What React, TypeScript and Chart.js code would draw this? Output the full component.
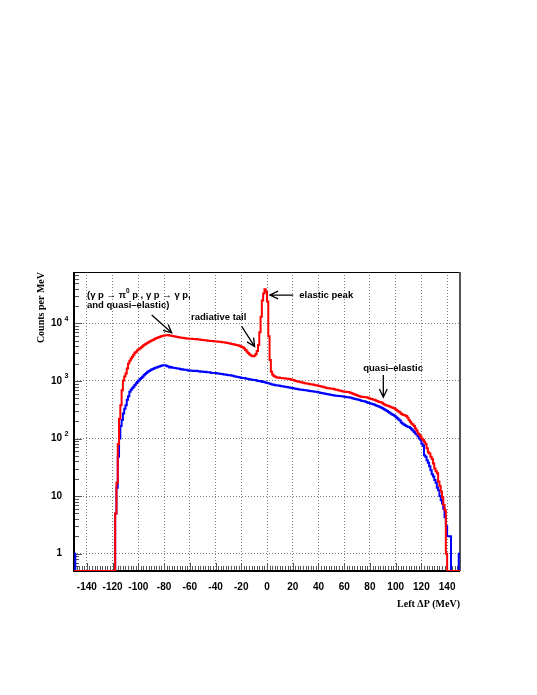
import { useEffect, useRef } from 'react';
import { Chart, registerables } from 'chart.js';

Chart.register(...registerables);

// ---- axis ranges and ticks ----
const X_MIN = -150;
const X_MAX = 150;
const BIN_WIDTH = 1;
const Y_MIN = 0.5;
const Y_MAX = 78000;

const xTickValues = [-140, -120, -100, -80, -60, -40, -20, 0, 20, 40, 60, 80, 100, 120, 140];
const yTickValues = [1, 10, 100, 1000, 10000];
const yTickBase = ['1', '10', '10', '10', '10'];
const yTickExponent = ['', '', '2', '3', '4'];

// ---- histogram contents (counts per 1 MeV bin, bins given by their lower edge) ----
const redFirstBin = -118;
const redCounts = [
  5, 17, 80, 220, 380, 690, 1020, 1200, 1350, 1650,
  2010, 2250, 2450, 2630, 2850, 3100, 3210, 3400, 3550, 3680,
  3850, 4000, 4200, 4330, 4450, 4600, 4790, 4900, 5030, 5150,
  5280, 5480, 5580, 5700, 5820, 5900, 6010, 6080, 6150, 6200,
  6220, 6260, 6180, 6100, 6050, 5980, 5900, 5850, 5780, 5720,
  5680, 5620, 5600, 5560, 5520, 5480, 5450, 5420, 5400, 5380,
  5350, 5360, 5310, 5330, 5260, 5220, 5200, 5160, 5130, 5100,
  5080, 5050, 5000, 5010, 4950, 4930, 4900, 4870, 4850, 4820,
  4800, 4780, 4760, 4700, 4690, 4650, 4600, 4560, 4520, 4450,
  4400, 4370, 4300, 4250, 4200, 4150, 4080, 4000, 3900, 3800,
  3650, 3450, 3250, 3050, 2900, 2800, 2700, 2680, 2750, 2950,
  3300, 4200, 7000, 13000, 25000, 33000, 39000, 35000, 24000, 6000,
  2300, 1450, 1300, 1220, 1180, 1160, 1140, 1150, 1130, 1120,
  1110, 1110, 1100, 1090, 1090, 1080, 1070, 1050, 1040, 1020,
  1000, 990, 970, 965, 950, 935, 930, 915, 905, 900,
  890, 880, 880, 870, 860, 845, 840, 830, 815, 805,
  800, 790, 775, 770, 755, 745, 745, 740, 735, 730,
  720, 705, 700, 690, 680, 675, 665, 655, 650, 648,
  645, 640, 632, 620, 605, 595, 580, 570, 560, 545,
  535, 530, 528, 525, 522, 520, 510, 500, 490, 485,
  478, 470, 462, 450, 440, 432, 425, 418, 400, 390,
  380, 375, 368, 360, 350, 345, 338, 330, 315, 305,
  295, 282, 270, 262, 255, 252, 245, 230, 210, 195,
  182, 175, 165, 150, 138, 122, 118, 110, 100, 94,
  88, 80, 68, 58, 55, 48, 44, 37, 30, 27,
  25, 18, 15, 12, 9.5, 7, 5.7, 1,
];

const blueFirstBin = -118;
const blueCounts = [
  5, 14, 48, 100, 165, 210, 272, 330, 380, 470,
  540, 648, 700, 750, 790, 850, 910, 964, 1020, 1080,
  1130, 1180, 1250, 1320, 1380, 1440, 1490, 1530, 1585, 1620,
  1660, 1690, 1720, 1760, 1790, 1820, 1850, 1880, 1870, 1850,
  1800, 1780, 1720, 1740, 1700, 1690, 1680, 1660, 1650, 1640,
  1620, 1580, 1600, 1570, 1560, 1560, 1540, 1510, 1520, 1500,
  1510, 1490, 1500, 1500, 1470, 1480, 1450, 1460, 1440, 1430,
  1440, 1420, 1410, 1420, 1390, 1380, 1380, 1370, 1370, 1350,
  1340, 1330, 1320, 1320, 1300, 1290, 1280, 1270, 1260, 1250,
  1240, 1230, 1210, 1200, 1180, 1170, 1160, 1150, 1130, 1120,
  1120, 1100, 1090, 1080, 1070, 1060, 1050, 1040, 1040, 1030,
  1010, 1000, 990, 1000, 960, 970, 950, 930, 920, 910,
  890, 880, 870, 860, 845, 840, 835, 830, 820, 810,
  805, 795, 790, 785, 775, 770, 765, 755, 750, 740,
  730, 725, 715, 710, 705, 700, 695, 690, 690, 680,
  675, 670, 665, 660, 655, 650, 648, 640, 630, 625,
  615, 610, 605, 600, 592, 585, 580, 575, 570, 566,
  560, 555, 552, 548, 545, 542, 540, 535, 530, 525,
  522, 520, 516, 510, 500, 495, 488, 482, 478, 470,
  462, 455, 448, 442, 438, 432, 420, 412, 405, 400,
  395, 390, 380, 372, 365, 355, 348, 340, 330, 318,
  310, 300, 290, 280, 270, 262, 255, 245, 235, 225,
  215, 205, 190, 182, 175, 170, 165, 160, 158, 152,
  145, 138, 130, 122, 118, 110, 100, 95, 81, 75,
  51, 48, 42, 38, 33, 28, 24, 22, 19, 17,
  14, 12.6, 10, 8.5, 7.4, 6, 4.3, 3, 2, 2,
  2,
];
const blueEdgeBins = [-150, 149];
const blueEdgeCounts = [1, 1];

// ---- annotations (data coordinates) ----
const annotationTexts = [
  '(γ p → π^{0} p , γ p → γ p,',
  'and quasi–elastic)',
  'radiative tail',
  'elastic peak',
  'quasi–elastic',
];
const annotationX = [-139.9, -139.9, -59.1, 25.1, 74.8];
const annotationY = [30400, 20400, 12900, 31000, 1670];

const arrowFromX = [-89.6, -19.8, 20.4, 90.4];
const arrowFromY = [13930, 8980, 31050, 1262];
const arrowToX = [-74.1, -9.6, 2.3, 90.4];
const arrowToY = [6865, 3950, 31050, 522];

const SANS = '"Liberation Sans", Arial, Helvetica, sans-serif';
const SERIF = '"Liberation Serif", "Times New Roman", serif';

function histogramPoints(firstBin: number, counts: number[], extraBins: number[] = [], extraCounts: number[] = []) {
  const pts: { x: number; y: number }[] = [];
  const nBins = Math.round((X_MAX - X_MIN) / BIN_WIDTH);
  for (let i = 0; i < nBins; i++) {
    const lo = X_MIN + i * BIN_WIDTH;
    let c = 0;
    const k = Math.round((lo - firstBin) / BIN_WIDTH);
    if (k >= 0 && k < counts.length) c = counts[k];
    const e = extraBins.indexOf(lo);
    if (e >= 0) c = extraCounts[e];
    // empty bins are drawn on the bottom of the log axis (as ROOT does)
    pts.push({ x: lo, y: Math.max(c, Y_MIN) });
  }
  pts.push({ x: X_MAX, y: pts[pts.length - 1].y });
  return pts;
}

function drawRich(ctx: CanvasRenderingContext2D, text: string, x: number, y: number, size: number) {
  const parts = text.split(/\^\{([^}]*)\}/);
  let cx = x;
  parts.forEach((p, i) => {
    if (!p) return;
    const sup = i % 2 === 1;
    ctx.font = `bold ${sup ? size * 0.68 : size}px ${SANS}`;
    ctx.fillText(p, cx, sup ? y - size * 0.42 : y);
    cx += ctx.measureText(p).width;
  });
}

const decorPlugin = {
  id: 'rootDecor',
  beforeDatasetsDraw(chart: any) {
    const { ctx, chartArea: a, scales } = chart;
    const xs = scales.x;
    const ys = scales.y;
    ctx.save();
    // tick marks pointing into the frame
    ctx.strokeStyle = '#555';
    ctx.lineWidth = 1;
    ctx.beginPath();
    for (let v = X_MIN; v <= X_MAX; v += 2) {
      const px = Math.round(xs.getPixelForValue(v)) + 0.5;
      const len = Math.abs(v % 20) === 0 ? 8 : 5;
      ctx.moveTo(px, a.bottom);
      ctx.lineTo(px, a.bottom - len);
    }
    for (let d = -1; d <= 4; d++) {
      for (let m = 1; m <= 9; m++) {
        const v = m * Math.pow(10, d);
        if (v < Y_MIN || v > Y_MAX) continue;
        const py = Math.round(ys.getPixelForValue(v)) + 0.5;
        const len = m === 1 ? 8 : 5;
        ctx.moveTo(a.left, py);
        ctx.lineTo(a.left + len, py);
      }
    }
    ctx.stroke();
    // frame
    ctx.strokeStyle = '#000';
    ctx.lineWidth = 1;
    ctx.beginPath();
    ctx.moveTo(a.left, a.top + 0.5);
    ctx.lineTo(a.right, a.top + 0.5);
    ctx.stroke();
    ctx.lineWidth = 2;
    ctx.beginPath();
    ctx.moveTo(a.left, a.top);
    ctx.lineTo(a.left, a.bottom);
    ctx.lineTo(a.right, a.bottom);
    ctx.stroke();
    ctx.strokeStyle = '#555';
    ctx.beginPath();
    ctx.moveTo(a.right, a.top);
    ctx.lineTo(a.right, a.bottom);
    ctx.stroke();
    ctx.restore();
  },
  afterDatasetsDraw(chart: any) {
    const { ctx, chartArea: a, scales } = chart;
    const xs = scales.x;
    const ys = scales.y;
    ctx.save();
    ctx.fillStyle = '#000';
    ctx.textBaseline = 'middle';
    // y tick labels (10 with superscript exponent)
    yTickValues.forEach((v, i) => {
      const py = ys.getPixelForValue(v);
      ctx.font = `bold 10px ${SANS}`;
      ctx.textAlign = 'right';
      ctx.fillText(yTickBase[i], a.left - 12, py);
      if (yTickExponent[i]) {
        ctx.font = `bold 7px ${SANS}`;
        ctx.textAlign = 'left';
        ctx.fillText(yTickExponent[i], a.left - 9.5, py - 4.5);
      }
    });
    // annotation texts
    ctx.textAlign = 'left';
    annotationTexts.forEach((t, i) => {
      drawRich(ctx, t, xs.getPixelForValue(annotationX[i]), ys.getPixelForValue(annotationY[i]), 9.5);
    });
    // arrows
    ctx.strokeStyle = '#000';
    ctx.lineWidth = 1.3;
    arrowFromX.forEach((_, i) => {
      const x1 = xs.getPixelForValue(arrowFromX[i]);
      const y1 = ys.getPixelForValue(arrowFromY[i]);
      const x2 = xs.getPixelForValue(arrowToX[i]);
      const y2 = ys.getPixelForValue(arrowToY[i]);
      const ang = Math.atan2(y2 - y1, x2 - x1);
      const hl = 9;
      const ha = 0.45;
      ctx.beginPath();
      ctx.moveTo(x1, y1);
      ctx.lineTo(x2, y2);
      ctx.moveTo(x2 - hl * Math.cos(ang - ha), y2 - hl * Math.sin(ang - ha));
      ctx.lineTo(x2, y2);
      ctx.lineTo(x2 - hl * Math.cos(ang + ha), y2 - hl * Math.sin(ang + ha));
      ctx.stroke();
    });
    ctx.restore();
  },
};

export default function App() {
  const ref = useRef<HTMLCanvasElement | null>(null);
  useEffect(() => {
    if (!ref.current) return;
    const gridOpts = { display: true, drawOnChartArea: true, drawTicks: false, color: 'rgba(0,0,0,0.5)', lineWidth: 1 };
    const chart = new Chart(ref.current, {
      type: 'line',
      data: {
        datasets: [
          {
            label: 'red',
            data: histogramPoints(redFirstBin, redCounts),
            borderColor: '#ff0000',
            borderWidth: 2,
            stepped: 'before',
            pointRadius: 0,
            fill: false,
          },
          {
            label: 'blue',
            data: histogramPoints(blueFirstBin, blueCounts, blueEdgeBins, blueEdgeCounts),
            borderColor: '#0000ff',
            borderWidth: 2,
            stepped: 'before',
            pointRadius: 0,
            fill: false,
          },
        ],
      },
      options: {
        animation: false,
        responsive: false,
        devicePixelRatio: 1,
        parsing: false,
        normalized: true,
        layout: { padding: { left: 0, top: 272, right: 77, bottom: 0 } },
        plugins: { legend: { display: false }, tooltip: { enabled: false }, title: { display: false } },
        scales: {
          x: {
            type: 'linear',
            position: 'bottom',
            min: X_MIN,
            max: X_MAX,
            afterBuildTicks: (s: any) => {
              s.ticks = xTickValues.map((v) => ({ value: v }));
            },
            afterFit: (s: any) => {
              s.height = 124;
            },
            grid: gridOpts,
            border: { display: false, dash: [1, 2] },
            ticks: {
              display: true,
              padding: 10,
              color: '#000',
              autoSkip: false,
              maxRotation: 0,
              font: { family: SANS, size: 10, weight: 'bold' },
              callback: (v: any) => String(v),
            },
            title: {
              display: true,
              text: 'Left ΔP (MeV)',
              align: 'end',
              color: '#000',
              font: { family: SERIF, size: 10, weight: 'bold' },
              padding: { top: 0, bottom: 85 },
            },
          },
          y: {
            type: 'logarithmic',
            position: 'left',
            min: Y_MIN,
            max: Y_MAX,
            afterBuildTicks: (s: any) => {
              s.ticks = yTickValues.map((v) => ({ value: v }));
            },
            afterFit: (s: any) => {
              s.width = 74;
            },
            grid: gridOpts,
            border: { display: false, dash: [1, 2] },
            ticks: { display: false },
            title: {
              display: true,
              text: 'Counts per MeV',
              align: 'end',
              color: '#000',
              font: { family: SERIF, size: 10, weight: 'bold' },
              padding: { top: 35, bottom: 0 },
            },
          },
        },
      } as any,
      plugins: [decorPlugin],
    });
    return () => chart.destroy();
  }, []);

  return (
    <div style={{ position: 'absolute', left: 0, top: 0, width: 537, height: 695, background: '#fff' }}>
      <canvas ref={ref} width={537} height={695} style={{ display: 'block', width: 537, height: 695 }} />
    </div>
  );
}
